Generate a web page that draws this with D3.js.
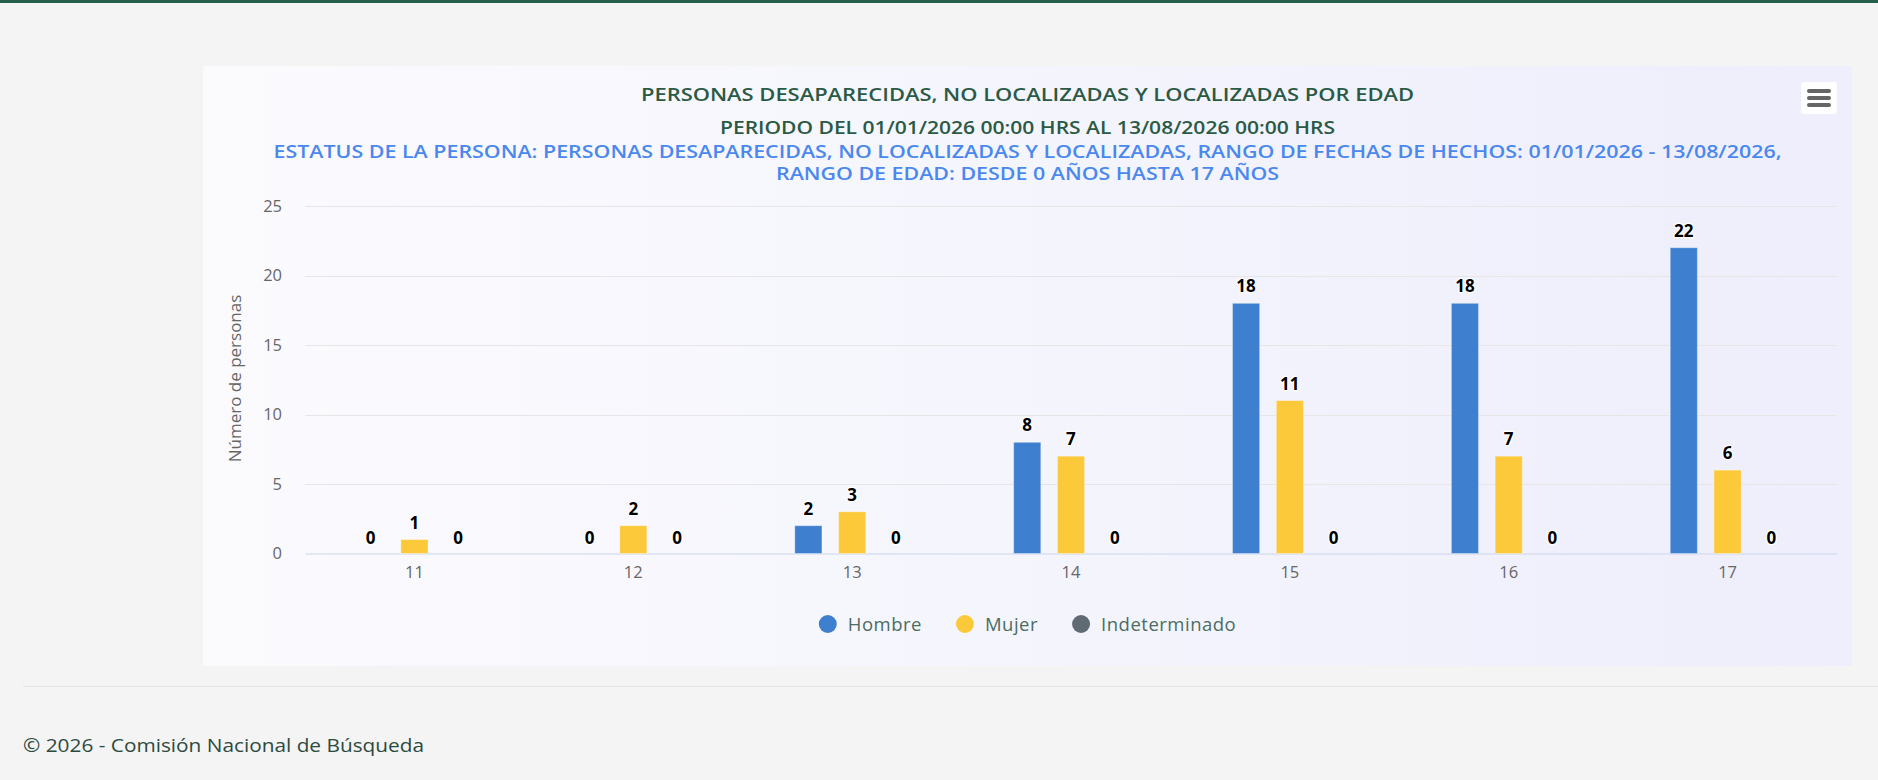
<!DOCTYPE html>
<html>
<head>
<meta charset="utf-8">
<script src="https://cdn.jsdelivr.net/npm/d3@7"></script>
<style>
  html, body { margin: 0; padding: 0; background: #f4f4f4; }
  svg { display: block; }
  text { font-family: "Open Sans", "Noto Sans", sans-serif; }
</style>
</head>
<body>
<script>
// chart values
const ages = ["11", "12", "13", "14", "15", "16", "17"];
const hombre = [0, 0, 2, 8, 18, 18, 22];
const mujer = [1, 2, 3, 7, 11, 7, 6];
const indeterminado = [0, 0, 0, 0, 0, 0, 0];
const seriesNames = ["Hombre", "Mujer", "Indeterminado"];
const seriesColors = ["#3f7fcf", "#fcc93a", "#5f6a73"];
const yTicks = [0, 5, 10, 15, 20, 25];

const titleLines = [
   "PERSONAS DESAPARECIDAS, NO LOCALIZADAS Y LOCALIZADAS POR EDAD",
   "PERIODO DEL 01/01/2026 00:00 HRS AL 13/08/2026 00:00 HRS"
];
const subtitleLines = [
   "ESTATUS DE LA PERSONA: PERSONAS DESAPARECIDAS, NO LOCALIZADAS Y LOCALIZADAS, RANGO DE FECHAS DE HECHOS: 01/01/2026 - 13/08/2026,",
   "RANGO DE EDAD: DESDE 0 AÑOS HASTA 17 AÑOS"
];
const yTitle = "Número de personas";
const footer = "© 2026 - Comisión Nacional de Búsqueda";

function createChart() {
   const width = 1878,
      height = 780;

   const svg = d3.select("body").append("svg")
      .attr("width", width)
      .attr("height", height);

   // page chrome: green top rule, card, footer rule
   svg.append("rect")
      .attr("x", 0).attr("y", 0)
      .attr("width", width).attr("height", 3)
      .style("fill", "#245f4c");

   const defs = svg.append("defs");
   const grad = defs.append("linearGradient")
      .attr("id", "cardBg")
      .attr("x1", "0%").attr("y1", "0%")
      .attr("x2", "100%").attr("y2", "0%");
   grad.append("stop").attr("offset", "0%").attr("stop-color", "#fbfbfe");
   grad.append("stop").attr("offset", "100%").attr("stop-color", "#eeeefc");

   const card = { x: 203, y: 66, w: 1649, h: 600 };
   svg.append("rect")
      .attr("x", card.x).attr("y", card.y)
      .attr("width", card.w).attr("height", card.h)
      .style("fill", "url(#cardBg)");

   svg.append("line")
      .attr("x1", 23).attr("x2", width)
      .attr("y1", 686.5).attr("y2", 686.5)
      .style("stroke", "#e6e6e6");

   svg.append("text")
      .attr("x", 23).attr("y", 752)
      .attr("textLength", 401)
      .attr("lengthAdjust", "spacingAndGlyphs")
      .style("font-size", "19px")
      .style("fill", "#2d4a3f")
      .text(footer);

   const cx = card.x + card.w / 2;

   // titles (stretched to the reference's wider font)
   const titleWidths = [773, 615];
   svg.selectAll(".title")
      .data(titleLines)
      .enter().append("text")
      .attr("class", "title")
      .attr("x", cx)
      .attr("y", (d, i) => 101 + i * 33)
      .attr("text-anchor", "middle")
      .attr("textLength", (d, i) => titleWidths[i])
      .attr("lengthAdjust", "spacingAndGlyphs")
      .style("font-size", "17.5px")
      .style("font-weight", 600)
      .style("fill", "#2a5a46")
      .text(d => d);

   const subWidths = [1508, 503];
   svg.selectAll(".subtitle")
      .data(subtitleLines)
      .enter().append("text")
      .attr("class", "subtitle")
      .attr("x", cx)
      .attr("y", (d, i) => 157.5 + i * 22.5)
      .attr("text-anchor", "middle")
      .attr("textLength", (d, i) => subWidths[i])
      .attr("lengthAdjust", "spacingAndGlyphs")
      .style("font-size", "17.5px")
      .style("font-weight", 600)
      .style("fill", "#4a88ee")
      .text(d => d);

   // context menu button
   const menu = svg.append("g").attr("transform", "translate(1801,82)");
   menu.append("rect")
      .attr("width", 36).attr("height", 32)
      .attr("rx", 3)
      .style("fill", "#fff");
   menu.selectAll("line")
      .data([9, 16, 23])
      .enter().append("line")
      .attr("x1", 8).attr("x2", 28)
      .attr("y1", d => d).attr("y2", d => d)
      .style("stroke", "#666")
      .style("stroke-width", 4)
      .style("stroke-linecap", "round");

   // plot area
   const plot = { left: 305, right: 1837, top: 206, bottom: 553.5 };

   const x0 = d3.scaleBand()
      .domain(ages)
      .range([plot.left, plot.right]);

   const bw = x0.bandwidth();
   const x1 = d3.scaleBand()
      .domain(seriesNames)
      .range([bw * 0.2, bw * 0.8]);
   const pointPad = 0.19;

   const y = d3.scaleLinear()
      .domain([0, 25])
      .range([plot.bottom, plot.top]);

   const color = d3.scaleOrdinal()
      .domain(seriesNames)
      .range(seriesColors);

   // grid
   svg.append("g")
      .selectAll("line")
      .data(yTicks.filter(t => t > 0))
      .enter().append("line")
      .attr("x1", plot.left).attr("x2", plot.right)
      .attr("y1", d => Math.round(y(d)) + 0.5)
      .attr("y2", d => Math.round(y(d)) + 0.5)
      .style("stroke", "#e6e6e6");

   // y axis labels
   const yAxis = d3.axisLeft(y)
      .tickValues(yTicks)
      .tickSize(0)
      .tickPadding(23);
   const yG = svg.append("g")
      .attr("transform", `translate(${plot.left},0)`)
      .call(yAxis);
   yG.select(".domain").remove();
   yG.selectAll("text")
      .style("font-family", "'Open Sans', sans-serif")
      .style("font-size", "16.5px")
      .style("fill", "#666");

   svg.append("text")
      .attr("transform", "translate(241,378.5) rotate(-90)")
      .attr("text-anchor", "middle")
      .style("font-size", "17px")
      .style("fill", "#666")
      .text(yTitle);

   // x axis
   const xAxis = d3.axisBottom(x0)
      .tickSize(0)
      .tickPadding(13);
   const xG = svg.append("g")
      .attr("transform", `translate(0,${plot.bottom})`)
      .call(xAxis);
   xG.select(".domain")
      .style("stroke", "#ccd6eb");
   xG.selectAll("text")
      .style("font-family", "'Open Sans', sans-serif")
      .style("font-size", "16.5px")
      .style("fill", "#666");

   // bars
   const allSeries = [hombre, mujer, indeterminado];
   const rows = ages.map((age, i) => ({
      age: age,
      values: seriesNames.map((s, k) => ({ series: s, value: allSeries[k][i] }))
   }));

   const groups = svg.selectAll(".age-group")
      .data(rows)
      .enter().append("g")
      .attr("class", "age-group")
      .attr("transform", d => `translate(${x0(d.age)},0)`);

   const barW = x1.bandwidth() * (1 - 2 * pointPad);

   groups.selectAll("rect")
      .data(d => d.values.filter(v => v.value > 0))
      .enter().append("rect")
      .attr("x", d => x1(d.series) + x1.bandwidth() * pointPad)
      .attr("y", d => y(d.value))
      .attr("width", barW)
      .attr("height", d => y(0) - y(d.value))
      .style("fill", d => color(d.series))
      .style("stroke", "#fff")
      .style("stroke-opacity", 0.35);

   groups.selectAll(".data-label")
      .data(d => d.values)
      .enter().append("text")
      .attr("class", "data-label")
      .attr("x", d => x1(d.series) + x1.bandwidth() / 2)
      .attr("y", d => y(d.value) - (d.value > 0 ? 11 : 10))
      .attr("text-anchor", "middle")
      .style("font-size", "17px")
      .style("font-weight", 700)
      .style("fill", "#000")
      .style("stroke", "#fff")
      .style("stroke-width", 2.5)
      .style("stroke-linejoin", "round")
      .style("paint-order", "stroke")
      .text(d => d.value);

   // legend, centred on the card
   const legend = svg.append("g");
   const items = legend.selectAll(".legend-item")
      .data(seriesNames)
      .enter().append("g")
      .attr("class", "legend-item");
   items.append("circle")
      .attr("r", 9)
      .attr("cx", 0)
      .attr("cy", 0)
      .style("fill", d => color(d));
   items.append("text")
      .attr("x", 20)
      .attr("y", 7)
      .style("font-size", "18.5px")
      .style("letter-spacing", "0.5px")
      .style("fill", "#4a6d62")
      .text(d => d);

   let offset = 0;
   items.each(function () {
      const w = this.querySelector("text").getComputedTextLength();
      d3.select(this).attr("transform", `translate(${offset},0)`);
      offset += 20 + w + 43;
   });
   const total = offset - 43 + 9;
   legend.attr("transform", `translate(${cx - total / 2 + 9},624)`);
}

createChart();
</script>
</body>
</html>
